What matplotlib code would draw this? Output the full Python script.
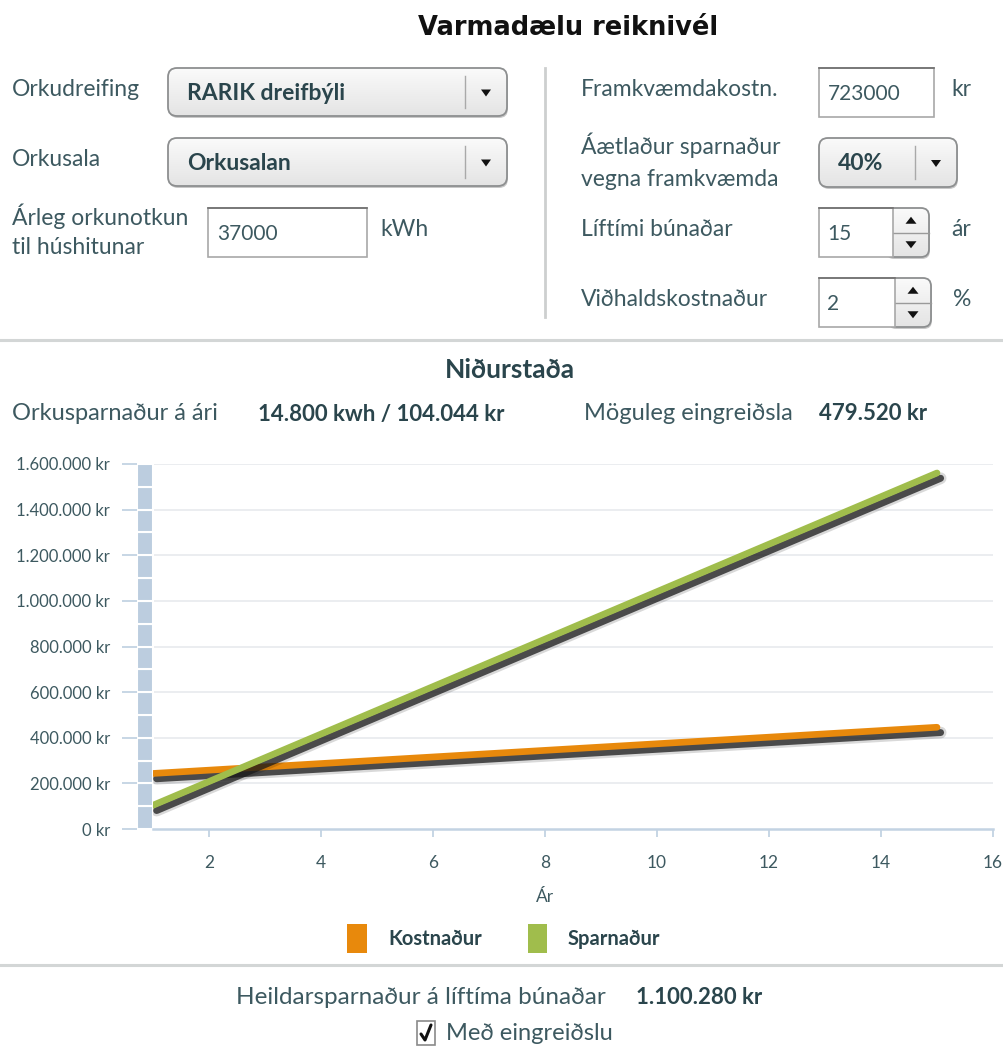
import numpy as np
import matplotlib
matplotlib.use("Agg")
import matplotlib.pyplot as plt
from matplotlib import patheffects as pe
from matplotlib.patches import FancyBboxPatch, Rectangle, Polygon

plt.rcParams['font.family'] = ['Lato', 'DejaVu Sans']

# chart data
years = [1, 2, 3, 4, 5, 6, 7, 8, 9, 10, 11, 12, 13, 14, 15]
kostnadur = [243480, 257940, 272400, 286860, 301320, 315780, 330240, 344700,
             359160, 373620, 388080, 402540, 417000, 431460, 445920]
sparnadur = [104044, 208088, 312132, 416176, 520220, 624264, 728308, 832352,
             936396, 1040440, 1144484, 1248528, 1352572, 1456616, 1560660]
series_names = ['Kostnaður', 'Sparnaður']
series_colors = ['#e8890c', '#a0bd4c']
y_ticks = [0, 200000, 400000, 600000, 800000, 1000000, 1200000, 1400000, 1600000]
x_ticks = [2, 4, 6, 8, 10, 12, 14, 16]

TXT = '#3d5960'
BOLD = '#2a454c'
W, H = 1004, 1048

fig = plt.figure(figsize=(W / 100, H / 100), dpi=100)
fig.patch.set_facecolor('white')

# full-figure axes in pixel coordinates for the form part
ui = fig.add_axes([0, 0, 1, 1])
ui.set_xlim(0, W)
ui.set_ylim(H, 0)
ui.axis('off')


def label(x, y, s, bold=False, size=16.5, color=None, ha='left', **kw):
    ui.text(x, y, s, fontsize=size, ha=ha, va='center',
            fontweight='bold' if bold else 'normal',
            color=color or (BOLD if bold else TXT), **kw)


def grad_box(x0, y0, x1, y1, r):
    box = FancyBboxPatch((x0, y0), x1 - x0, y1 - y0,
                         boxstyle='round,pad=0,rounding_size=%d' % r,
                         fc='none', ec='#8d8f90', lw=1.3, zorder=3)
    ui.add_patch(box)
    g = np.linspace(0, 1, 50).reshape(-1, 1)
    im = ui.imshow(g, cmap=matplotlib.colors.LinearSegmentedColormap.from_list(
        'g', ['#fafafa', '#e4e4e4']), extent=(x0, x1, y1, y0), aspect='auto',
        zorder=2)
    im.set_clip_path(box)
    # soft shadow below
    ui.add_patch(FancyBboxPatch((x0 + 1, y0 + 2), x1 - x0, y1 - y0,
                                boxstyle='round,pad=0,rounding_size=%d' % r,
                                fc='#c8c8c8', ec='none', zorder=1))


def arrow(cx, cy, up=False, w=10, h=7):
    s = -1 if up else 1
    ui.add_patch(Polygon([(cx - w / 2, cy - s * h / 2), (cx + w / 2, cy - s * h / 2),
                          (cx, cy + s * h / 2)], closed=True, fc='#111111',
                         ec='none', zorder=5))


def dropdown(x0, y0, x1, y1, text, sep, tx):
    grad_box(x0, y0, x1, y1, 9)
    ui.plot([sep, sep], [y0 + 8, y1 - 8], color='#a9a9a9', lw=1, zorder=4)
    arrow((sep + x1) / 2, (y0 + y1) / 2 + 1)
    label(tx, (y0 + y1) / 2 + 1, text, bold=True, size=16.5, zorder=5)


def textbox(x0, y0, x1, y1, text):
    ui.add_patch(Rectangle((x0, y0), x1 - x0, y1 - y0, fc='white',
                           ec='#a8a8a8', lw=1.2, zorder=2))
    ui.plot([x0, x1], [y0, y0], color='#6f6f6f', lw=1.2, zorder=3)
    label(x0 + 9, (y0 + y1) / 2 + 1, text, size=15, zorder=4)


def spinner(x0, y0, x1, y1, text):
    bx = x1 - 36
    grad_box(bx - 8, y0, x1, y1, 8)
    ui.add_patch(Rectangle((x0, y0), bx - x0, y1 - y0, fc='white',
                           ec='#a8a8a8', lw=1.2, zorder=6))
    ui.plot([x0, bx], [y0, y0], color='#6f6f6f', lw=1.2, zorder=7)
    ym = (y0 + y1) / 2
    ui.plot([bx, x1], [ym, ym], color='#9a9a9a', lw=1, zorder=4)
    arrow((bx + x1) / 2, (y0 + ym) / 2, up=True, w=11, h=7)
    arrow((bx + x1) / 2, (ym + y1) / 2, w=11, h=7)
    label(x0 + 8, ym + 1, text, size=15, zorder=8)


# title
ui.text(568, 28, 'Varmadælu reiknivél', fontsize=18.5, fontweight='bold',
        family='DejaVu Sans', color='#111111', ha='center', va='center')

# left column
label(12, 90, 'Orkudreifing')
dropdown(168, 68, 507, 116, 'RARIK dreifbýli', 465, 187)
label(12, 160, 'Orkusala')
dropdown(168, 138, 507, 186, 'Orkusalan', 465, 187)
label(12, 216, 'Árleg orkunotkun')
label(12, 248, 'til húshitunar')
textbox(208, 208, 367, 257, '37000')
label(380, 230, 'kWh')

ui.plot([545, 545], [68, 317], color='#cdcfcf', lw=2)

# right column
label(581, 89, 'Framkvæmdakostn.')
textbox(819, 68, 934, 117, '723000')
label(951, 89, 'kr')
label(581, 145, 'Áætlaður sparnaður')
label(581, 180, 'vegna framkvæmda')
dropdown(819, 138, 957, 187, '40%', 915, 838)
label(581, 229, 'Líftími búnaðar')
spinner(819, 208, 929, 257, '15')
label(951, 229, 'ár')
label(581, 299, 'Viðhaldskostnaður')
spinner(819, 278, 931, 327, '2')
label(953, 299, '%')

ui.plot([0, W], [340, 340], color='#d3d6d6', lw=2.2)

# results
label(510, 370, 'Niðurstaða', bold=True, size=19, ha='center')
label(12, 414, 'Orkusparnaður á ári', size=17)
label(258, 414, '14.800 kwh / 104.044 kr', bold=True, size=16)
label(584, 414, 'Möguleg eingreiðsla', size=17)
label(819, 414, '479.520 kr', bold=True, size=16)

# chart
ax = fig.add_axes([153 / W, (H - 829) / H, 840 / W, 365 / H])
ax.set_facecolor('none')
ax.set_xlim(1, 16)
ax.set_ylim(0, 1600000)

for yv in y_ticks[1:]:
    ax.axhline(yv, color='#e7eaed', lw=1.2, zorder=0)

# segmented band left of the plot area
band_y = np.arange(0, 1600000, 100000)
ax.barh(band_y, 16 / 56, left=1 - 16 / 56, height=100000, align='edge',
        color='#bccddf', edgecolor='white', lw=1.5, clip_on=False, zorder=1)

for yv, col in zip([kostnadur, sparnadur], series_colors):
    ax.plot(years, yv, color=col, lw=4.8, solid_capstyle='round', zorder=3,
            path_effects=[
                pe.SimpleLineShadow(offset=(2.6, -3.8), shadow_color='black',
                                    alpha=0.15, linewidth=8.5),
                pe.SimpleLineShadow(offset=(2.6, -3.8), shadow_color='#1a1a1a',
                                    alpha=0.75, linewidth=5),
                pe.Normal()])

for s in ['top', 'right', 'left']:
    ax.spines[s].set_visible(False)
ax.spines['bottom'].set_color('#c3d3e3')
ax.spines['bottom'].set_linewidth(1.8)
ax.spines['left'].set_position(('outward', 11.5))

ax.set_yticks(y_ticks)
ax.set_yticklabels([('%s kr' % format(v, ',')).replace(',', '.') for v in y_ticks])
ax.set_xticks(x_ticks)
ax.tick_params(axis='y', length=10.8, width=1.3, color='#c3d3e3', pad=8.5,
               labelsize=12, labelcolor=TXT)
ax.tick_params(axis='x', length=6, width=1.3, color='#c3d3e3', pad=13,
               labelsize=12.5, labelcolor=TXT)
ax.text((545 - 153) / 840, (829 - 897) / 365, 'Ár', transform=ax.transAxes,
        ha='center', va='center', fontsize=12.5, color=TXT)

# legend
for (x0, x1, tx), name, col in zip([(347, 367, 388), (528, 547, 568)],
                                   series_names, series_colors):
    ui.add_patch(Rectangle((x0, 924), x1 - x0, 29, fc=col, ec='none'))
    label(tx, 939, name, bold=True, size=14.5)

ui.plot([0, W], [965, 965], color='#d3d6d6', lw=2.2)

label(236, 997, 'Heildarsparnaður á líftíma búnaðar', size=17.5)
label(636, 997, '1.100.280 kr', bold=True, size=16)

ui.add_patch(Rectangle((417, 1021), 18, 24, fc='white', ec='#8a8a8a', lw=1.2))
ui.plot([421, 425, 431], [1034, 1040, 1025], color='#111111', lw=2.2,
        solid_capstyle='round')
label(446, 1033, 'Með eingreiðslu', size=17)

fig.savefig('out.png', dpi=100, facecolor='white')
